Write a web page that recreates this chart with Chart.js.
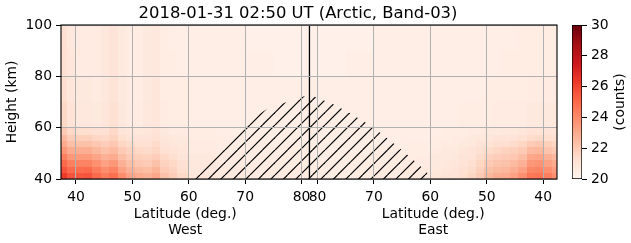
<!DOCTYPE html>
<html lang="en">

<head>
    <meta charset="UTF-8">
    <title>2018-01-31 02:50 UT (Arctic, Band-03)</title>
    <script src="https://cdn.jsdelivr.net/npm/chart.js"></script>
    <style>
        body {
            margin: 0;
            background: #fff;
        }

        #wrap {
            position: relative;
            width: 631px;
            height: 243px;
        }

        #cbarBox {
            position: absolute;
            left: 560px;
            top: 0;
        }
    </style>
</head>

<body>
    <div id="wrap">
        <canvas id="mainChart" width="631" height="243"></canvas>
        <div id="cbarBox"><canvas id="cbarChart" width="71" height="243"></canvas></div>
    </div>

    <script>
        // ---- data ----
        // cell edges (latitude deg., same on both sides) and height edges (km)
        const latEdges = [37.3, 38.5, 40, 41.5, 43, 44.5, 46, 47.5, 49, 50.5, 52, 53.5, 55, 56.5, 58, 60, 65, 70, 75, 81.45];
        const heightEdges = [40, 42.5, 45, 47.5, 50, 52.5, 55, 57.5, 60, 70, 80, 90, 100];

        // counts, one row per height band (bottom first), one value per latitude cell
        const westCounts = [
            [26.3, 25.6, 25.5, 25.6, 25.0, 24.4, 24.8, 23.9, 23.3, 23.0, 22.8, 23.1, 22.3, 21.9, 21.5, 20.9, 20.7, 20.6, 20.6],
            [25.6, 25.0, 24.9, 25.0, 24.4, 23.9, 24.2, 23.3, 22.8, 22.5, 22.4, 22.7, 22.0, 21.7, 21.3, 20.8, 20.7, 20.6, 20.6],
            [25.0, 24.3, 24.2, 24.2, 23.8, 23.3, 23.6, 22.8, 22.4, 22.1, 22.0, 22.3, 21.7, 21.5, 21.2, 20.8, 20.6, 20.6, 20.5],
            [24.3, 23.6, 23.5, 23.5, 23.2, 22.8, 23.0, 22.4, 22.0, 21.8, 21.7, 21.9, 21.5, 21.3, 21.0, 20.7, 20.6, 20.5, 20.5],
            [23.6, 23.0, 22.9, 22.9, 22.6, 22.3, 22.5, 22.0, 21.7, 21.5, 21.4, 21.6, 21.2, 21.1, 20.9, 20.6, 20.5, 20.5, 20.5],
            [23.0, 22.4, 22.3, 22.3, 22.1, 21.9, 22.1, 21.6, 21.4, 21.2, 21.2, 21.4, 21.0, 20.9, 20.8, 20.6, 20.5, 20.5, 20.4],
            [22.5, 21.9, 21.8, 21.8, 21.6, 21.5, 21.7, 21.3, 21.1, 21.0, 21.0, 21.2, 20.9, 20.8, 20.7, 20.5, 20.5, 20.4, 20.4],
            [22.0, 21.5, 21.3, 21.3, 21.2, 21.2, 21.5, 21.0, 20.9, 20.8, 20.9, 21.1, 20.7, 20.6, 20.6, 20.5, 20.4, 20.4, 20.4],
            [21.5, 21.1, 20.8, 20.8, 20.7, 20.9, 21.2, 20.8, 20.6, 20.6, 20.8, 20.9, 20.6, 20.5, 20.5, 20.4, 20.4, 20.4, 20.4],
            [21.3, 20.9, 20.7, 20.7, 20.6, 20.8, 21.1, 20.7, 20.6, 20.5, 20.7, 20.9, 20.5, 20.5, 20.5, 20.4, 20.4, 20.4, 20.4],
            [21.2, 20.9, 20.6, 20.6, 20.6, 20.8, 21.0, 20.7, 20.5, 20.5, 20.7, 20.8, 20.5, 20.5, 20.4, 20.4, 20.4, 20.4, 20.3],
            [21.2, 20.8, 20.6, 20.6, 20.6, 20.8, 21.0, 20.7, 20.5, 20.5, 20.7, 20.8, 20.5, 20.4, 20.4, 20.4, 20.4, 20.3, 20.3]
        ];
        const eastCounts = [
            [23.8, 24.3, 24.7, 24.6, 23.8, 23.3, 23.0, 22.9, 22.6, 22.0, 21.6, 21.3, 21.1, 21.0, 20.9, 20.7, 20.6, 20.5, 20.5],
            [23.4, 23.8, 24.2, 24.1, 23.3, 22.9, 22.6, 22.5, 22.3, 21.8, 21.4, 21.2, 21.0, 20.9, 20.8, 20.7, 20.6, 20.5, 20.5],
            [23.0, 23.3, 23.7, 23.6, 22.8, 22.5, 22.3, 22.2, 22.0, 21.6, 21.3, 21.1, 20.9, 20.8, 20.7, 20.6, 20.5, 20.5, 20.5],
            [22.5, 22.8, 23.2, 23.1, 22.4, 22.1, 22.0, 21.9, 21.7, 21.4, 21.1, 21.0, 20.8, 20.7, 20.7, 20.6, 20.5, 20.5, 20.4],
            [22.0, 22.2, 22.6, 22.5, 22.0, 21.8, 21.7, 21.6, 21.4, 21.2, 21.0, 20.9, 20.7, 20.7, 20.6, 20.5, 20.5, 20.4, 20.4],
            [21.6, 21.8, 22.1, 22.0, 21.6, 21.4, 21.3, 21.3, 21.1, 21.0, 20.8, 20.7, 20.6, 20.6, 20.5, 20.5, 20.4, 20.4, 20.4],
            [21.2, 21.3, 21.5, 21.4, 21.2, 21.1, 21.0, 21.0, 20.9, 20.8, 20.7, 20.6, 20.6, 20.5, 20.5, 20.4, 20.4, 20.4, 20.4],
            [20.9, 21.0, 21.1, 21.1, 20.9, 20.8, 20.8, 20.7, 20.7, 20.6, 20.6, 20.5, 20.5, 20.5, 20.4, 20.4, 20.4, 20.4, 20.4],
            [20.7, 20.7, 20.7, 20.7, 20.6, 20.6, 20.6, 20.6, 20.5, 20.5, 20.5, 20.5, 20.4, 20.4, 20.4, 20.4, 20.4, 20.4, 20.4],
            [20.6, 20.6, 20.6, 20.6, 20.5, 20.5, 20.5, 20.5, 20.5, 20.4, 20.4, 20.4, 20.4, 20.4, 20.4, 20.4, 20.4, 20.4, 20.4],
            [20.5, 20.5, 20.5, 20.5, 20.5, 20.5, 20.5, 20.4, 20.4, 20.4, 20.4, 20.4, 20.4, 20.4, 20.4, 20.4, 20.4, 20.4, 20.3],
            [20.5, 20.5, 20.5, 20.5, 20.5, 20.4, 20.4, 20.4, 20.4, 20.4, 20.4, 20.4, 20.4, 20.4, 20.4, 20.4, 20.4, 20.3, 20.3]
        ];

        // hatched (no data) region outline, latitude / height pairs
        const hatchWestLat = [60, 68.5, 73.9, 77.4, 80.6, 81.4];
        const hatchWestKm = [40, 59.9, 67.3, 70.0, 72.3, 72.7];
        const hatchEastLat = [80.5, 76.9, 73.7, 70.2, 66.8, 63.6, 60.6, 60.3];
        const hatchEastKm = [72.0, 68.8, 64.9, 60.3, 54.4, 48.6, 42.7, 40];

        const westTicks = [40, 50, 60, 70, 80];
        const eastTicks = [80, 70, 60, 50, 40];
        const heightTicks = [40, 60, 80, 100];
        const countTicks = [20, 22, 24, 26, 28, 30];

        const titleText = '2018-01-31 02:50 UT (Arctic, Band-03)';

        // ---- axis layout: west latitude runs left->right up to the pole turn,
        // east side is mirrored: u = EAST_REF - lat
        const TURN = 81.4;
        const EAST_REF = 162.84;
        const X_MIN = 37.34, X_MAX = 125.3;
        const westU = lat => lat;
        const eastU = lat => EAST_REF - lat;

        const FONT = 'DejaVu Sans';
        Chart.defaults.font.family = FONT;
        Chart.defaults.color = '#000';

        // matplotlib "Reds"
        const REDS = ['#fff5f0', '#fee0d2', '#fcbba1', '#fc9272', '#fb6a4a', '#ef3b2c', '#cb181d', '#a50f15', '#67000d'];
        const CMIN = 20, CMAX = 30;

        function hexRgb(h) {
            return [parseInt(h.slice(1, 3), 16), parseInt(h.slice(3, 5), 16), parseInt(h.slice(5, 7), 16)];
        }
        const REDS_RGB = REDS.map(hexRgb);

        function colorFor(v) {
            let t = (v - CMIN) / (CMAX - CMIN);
            t = Math.max(0, Math.min(1, t)) * (REDS_RGB.length - 1);
            const i = Math.min(Math.floor(t), REDS_RGB.length - 2);
            const f = t - i;
            const a = REDS_RGB[i], b = REDS_RGB[i + 1];
            return `rgb(${Math.round(a[0] + (b[0] - a[0]) * f)},${Math.round(a[1] + (b[1] - a[1]) * f)},${Math.round(a[2] + (b[2] - a[2]) * f)})`;
        }

        // diagonal hatch pattern, 45 degrees, 12.5 px apart
        function makeHatch() {
            const c = document.createElement('canvas');
            c.width = 25;
            c.height = 25;
            const g = c.getContext('2d');
            g.strokeStyle = '#000';
            g.lineWidth = 1.2;
            for (let k = -25; k <= 25.1; k += 12.5) {
                g.beginPath();
                g.moveTo(k, 25);
                g.lineTo(k + 25, 0);
                g.stroke();
            }
            return g.createPattern(c, 'repeat');
        }

        const hatchPoints = hatchWestLat.map((lat, i) => ({ x: westU(lat), y: hatchWestKm[i] }))
            .concat(hatchEastLat.map((lat, i) => ({ x: eastU(lat), y: hatchEastKm[i] })));

        const heatmapPlugin = {
            id: 'heatmap',
            beforeDatasetsDraw(chart) {
                const { ctx, chartArea: a, scales: { x, y } } = chart;
                ctx.save();
                ctx.beginPath();
                ctx.rect(a.left, a.top, a.right - a.left, a.bottom - a.top);
                ctx.clip();
                const sides = [[westCounts, westU], [eastCounts, eastU]];
                sides.forEach(([grid, toU]) => {
                    for (let r = 0; r < heightEdges.length - 1; r++) {
                        const yTop = Math.floor(y.getPixelForValue(heightEdges[r + 1]));
                        const yBot = Math.ceil(y.getPixelForValue(heightEdges[r]));
                        for (let c = 0; c < latEdges.length - 1; c++) {
                            const p0 = x.getPixelForValue(toU(latEdges[c]));
                            const p1 = x.getPixelForValue(toU(latEdges[c + 1]));
                            const left = Math.floor(Math.min(p0, p1));
                            const right = Math.ceil(Math.max(p0, p1));
                            ctx.fillStyle = colorFor(grid[r][c]);
                            ctx.fillRect(left, yTop, right - left, yBot - yTop);
                        }
                    }
                });
                ctx.restore();
            }
        };

        const framePlugin = {
            id: 'frame',
            afterDraw(chart) {
                const { ctx, chartArea: a, scales: { x } } = chart;
                ctx.save();
                ctx.strokeStyle = '#000';
                ctx.lineWidth = 1.1;
                ctx.strokeRect(a.left, a.top, a.right - a.left, a.bottom - a.top);

                ctx.fillStyle = '#000';
                ctx.textAlign = 'center';
                ctx.textBaseline = 'alphabetic';
                ctx.font = `16.4px "${FONT}"`;
                ctx.fillText(titleText, 298, 18);

                ctx.font = `13.9px "${FONT}"`;
                const wx = x.getPixelForValue((X_MIN + TURN) / 2);
                const ex = x.getPixelForValue((TURN + X_MAX) / 2);
                ctx.fillText('Latitude (deg.)', wx, 218);
                ctx.fillText('West', wx, 234);
                ctx.fillText('Latitude (deg.)', ex, 218);
                ctx.fillText('East', ex, 234);

                ctx.translate(16, (a.top + a.bottom) / 2);
                ctx.rotate(-Math.PI / 2);
                ctx.fillText('Height (km)', 0, 0);
                ctx.restore();
            }
        };

        const tickFont = { family: FONT, size: 13.9 };

        new Chart(document.getElementById('mainChart'), {
            type: 'line',
            data: {
                datasets: [{
                    data: hatchPoints,
                    fill: 'start',
                    backgroundColor: makeHatch(),
                    borderWidth: 0,
                    borderColor: 'rgba(0,0,0,0)',
                    pointRadius: 0,
                    tension: 0
                }, {
                    data: [{ x: TURN, y: 40 }, { x: TURN, y: 100 }],
                    borderColor: '#000',
                    borderWidth: 1.3,
                    pointRadius: 0,
                    fill: false
                }]
            },
            options: {
                responsive: false,
                animation: false,
                events: [],
                layout: { padding: { left: 0, right: 74, top: 25, bottom: 0 } },
                plugins: { legend: { display: false }, tooltip: { enabled: false }, title: { display: false } },
                scales: {
                    x: {
                        type: 'linear',
                        min: X_MIN,
                        max: X_MAX,
                        afterBuildTicks: s => {
                            s.ticks = westTicks.map(v => ({ value: westU(v) }))
                                .concat(eastTicks.map(v => ({ value: eastU(v) })));
                        },
                        afterFit: s => { s.height = 64; },
                        ticks: {
                            autoSkip: false,
                            maxRotation: 0,
                            font: tickFont,
                            padding: 5,
                            callback: v => String(Math.round(v <= TURN ? v : EAST_REF - v))
                        },
                        grid: { color: '#b0b0b0', lineWidth: 1, tickColor: '#000', tickLength: 5, z: 1 },
                        border: { display: false }
                    },
                    y: {
                        min: 40,
                        max: 100,
                        afterBuildTicks: s => { s.ticks = heightTicks.map(v => ({ value: v })); },
                        afterFit: s => { s.width = 61; },
                        ticks: { font: tickFont, padding: 4 },
                        grid: { color: '#b0b0b0', lineWidth: 1, tickColor: '#000', tickLength: 5, z: 1 },
                        border: { display: false }
                    }
                }
            },
            plugins: [heatmapPlugin, framePlugin]
        });

        // ---- colour bar ----
        const cbarLabelPlugin = {
            id: 'cbarLabel',
            afterDraw(chart) {
                const { ctx, chartArea: a } = chart;
                ctx.save();
                ctx.fillStyle = '#000';
                ctx.font = `13.9px "${FONT}"`;
                ctx.textAlign = 'center';
                ctx.textBaseline = 'middle';
                ctx.translate(60, (a.top + a.bottom) / 2);
                ctx.rotate(-Math.PI / 2);
                ctx.fillText('(counts)', 0, 0);
                ctx.restore();
            }
        };

        new Chart(document.getElementById('cbarChart'), {
            type: 'bar',
            data: {
                labels: ['counts'],
                datasets: [{
                    data: [[CMIN, CMAX]],
                    backgroundColor: ctx => {
                        const a = ctx.chart.chartArea;
                        if (!a) return REDS[0];
                        const g = ctx.chart.ctx.createLinearGradient(0, a.bottom, 0, a.top);
                        REDS.forEach((c, i) => g.addColorStop(i / (REDS.length - 1), c));
                        return g;
                    },
                    borderColor: '#000',
                    borderWidth: 1,
                    borderSkipped: false,
                    barPercentage: 1,
                    categoryPercentage: 1
                }]
            },
            options: {
                responsive: false,
                animation: false,
                events: [],
                layout: { padding: { left: 12, right: 0, top: 25, bottom: 64 } },
                plugins: { legend: { display: false }, tooltip: { enabled: false } },
                scales: {
                    x: { display: false },
                    y: {
                        position: 'right',
                        min: CMIN,
                        max: CMAX,
                        afterBuildTicks: s => { s.ticks = countTicks.map(v => ({ value: v })); },
                        afterFit: s => { s.width = 49; },
                        ticks: { font: tickFont, padding: 4 },
                        grid: { drawOnChartArea: false, tickColor: '#000', tickLength: 5 },
                        border: { display: false }
                    }
                }
            },
            plugins: [cbarLabelPlugin]
        });
    </script>
</body>

</html>
